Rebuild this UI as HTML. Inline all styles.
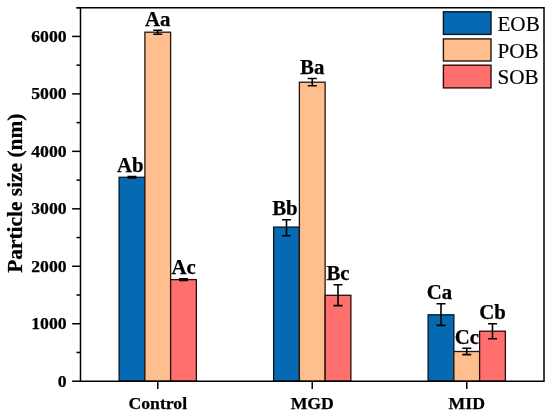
<!DOCTYPE html>
<html><head><meta charset="utf-8"><style>
html,body{margin:0;padding:0;background:#fff;width:550px;height:416px;overflow:hidden;font-family:"Liberation Serif",serif;}
svg{display:block;will-change:transform;}
</style></head><body>
<svg width="550" height="416" viewBox="0 0 550 416">
<rect width="550" height="416" fill="#fff"/>
<rect x="119.12" y="177.30" width="25.75" height="203.90" fill="#056AB1" stroke="#081424" stroke-width="1.3"/>
<rect x="144.88" y="32.20" width="25.75" height="349.00" fill="#FEBE8E" stroke="#26180e" stroke-width="1.3"/>
<rect x="170.62" y="279.60" width="25.75" height="101.60" fill="#FF6F6E" stroke="#2a0c0c" stroke-width="1.3"/>
<rect x="273.62" y="227.10" width="25.75" height="154.10" fill="#056AB1" stroke="#081424" stroke-width="1.3"/>
<rect x="299.38" y="82.20" width="25.75" height="299.00" fill="#FEBE8E" stroke="#26180e" stroke-width="1.3"/>
<rect x="325.12" y="295.30" width="25.75" height="85.90" fill="#FF6F6E" stroke="#2a0c0c" stroke-width="1.3"/>
<rect x="428.12" y="314.80" width="25.75" height="66.40" fill="#056AB1" stroke="#081424" stroke-width="1.3"/>
<rect x="453.88" y="351.50" width="25.75" height="29.70" fill="#FEBE8E" stroke="#26180e" stroke-width="1.3"/>
<rect x="479.62" y="331.20" width="25.75" height="50.00" fill="#FF6F6E" stroke="#2a0c0c" stroke-width="1.3"/>
<path d="M127.50 176.60H136.50M132.00 176.60V178.00M127.50 178.00H136.50" stroke="#000" stroke-width="1.6" fill="none"/>
<path d="M153.25 30.20H162.25M157.75 30.20V34.30M153.25 34.30H162.25" stroke="#000" stroke-width="1.6" fill="none"/>
<path d="M179.00 278.80H188.00M183.50 278.80V280.40M179.00 280.40H188.00" stroke="#000" stroke-width="1.6" fill="none"/>
<path d="M282.00 219.70H291.00M286.50 219.70V235.80M282.00 235.80H291.00" stroke="#000" stroke-width="1.6" fill="none"/>
<path d="M307.75 78.50H316.75M312.25 78.50V85.80M307.75 85.80H316.75" stroke="#000" stroke-width="1.6" fill="none"/>
<path d="M333.50 284.70H342.50M338.00 284.70V305.60M333.50 305.60H342.50" stroke="#000" stroke-width="1.6" fill="none"/>
<path d="M436.50 303.80H445.50M441.00 303.80V325.40M436.50 325.40H445.50" stroke="#000" stroke-width="1.6" fill="none"/>
<path d="M462.25 348.30H471.25M466.75 348.30V354.60M462.25 354.60H471.25" stroke="#000" stroke-width="1.6" fill="none"/>
<path d="M488.00 323.80H497.00M492.50 323.80V338.70M488.00 338.70H497.00" stroke="#000" stroke-width="1.6" fill="none"/>
<text x="130.40" y="171.60" text-anchor="middle" font-family="Liberation Serif" font-weight="bold" font-size="20.8" stroke="#000" stroke-width="0.25">Ab</text>
<text x="157.75" y="26.00" text-anchor="middle" font-family="Liberation Serif" font-weight="bold" font-size="20.8" stroke="#000" stroke-width="0.25">Aa</text>
<text x="183.50" y="274.40" text-anchor="middle" font-family="Liberation Serif" font-weight="bold" font-size="20.8" stroke="#000" stroke-width="0.25">Ac</text>
<text x="284.90" y="214.80" text-anchor="middle" font-family="Liberation Serif" font-weight="bold" font-size="20.8" stroke="#000" stroke-width="0.25">Bb</text>
<text x="312.25" y="73.70" text-anchor="middle" font-family="Liberation Serif" font-weight="bold" font-size="20.8" stroke="#000" stroke-width="0.25">Ba</text>
<text x="338.00" y="280.00" text-anchor="middle" font-family="Liberation Serif" font-weight="bold" font-size="20.8" stroke="#000" stroke-width="0.25">Bc</text>
<text x="439.40" y="299.40" text-anchor="middle" font-family="Liberation Serif" font-weight="bold" font-size="20.8" stroke="#000" stroke-width="0.25">Ca</text>
<text x="466.75" y="343.60" text-anchor="middle" font-family="Liberation Serif" font-weight="bold" font-size="20.8" stroke="#000" stroke-width="0.25">Cc</text>
<text x="492.50" y="318.50" text-anchor="middle" font-family="Liberation Serif" font-weight="bold" font-size="20.8" stroke="#000" stroke-width="0.25">Cb</text>
<path d="M80.5 7.7V381.2H544.0V7.7H77.2" stroke="#000" stroke-width="1.5" fill="none" stroke-linecap="square"/>
<line x1="72.10" y1="381.20" x2="80.50" y2="381.20" stroke="#000" stroke-width="1.5"/>
<text x="66.60" y="386.50" text-anchor="end" font-family="Liberation Serif" font-weight="bold" font-size="17.7" stroke="#000" stroke-width="0.25">0</text>
<line x1="76.50" y1="352.47" x2="80.50" y2="352.47" stroke="#000" stroke-width="1.5"/>
<line x1="72.10" y1="323.74" x2="80.50" y2="323.74" stroke="#000" stroke-width="1.5"/>
<text x="66.60" y="329.04" text-anchor="end" font-family="Liberation Serif" font-weight="bold" font-size="17.7" stroke="#000" stroke-width="0.25">1000</text>
<line x1="76.50" y1="295.01" x2="80.50" y2="295.01" stroke="#000" stroke-width="1.5"/>
<line x1="72.10" y1="266.28" x2="80.50" y2="266.28" stroke="#000" stroke-width="1.5"/>
<text x="66.60" y="271.58" text-anchor="end" font-family="Liberation Serif" font-weight="bold" font-size="17.7" stroke="#000" stroke-width="0.25">2000</text>
<line x1="76.50" y1="237.55" x2="80.50" y2="237.55" stroke="#000" stroke-width="1.5"/>
<line x1="72.10" y1="208.82" x2="80.50" y2="208.82" stroke="#000" stroke-width="1.5"/>
<text x="66.60" y="214.12" text-anchor="end" font-family="Liberation Serif" font-weight="bold" font-size="17.7" stroke="#000" stroke-width="0.25">3000</text>
<line x1="76.50" y1="180.08" x2="80.50" y2="180.08" stroke="#000" stroke-width="1.5"/>
<line x1="72.10" y1="151.35" x2="80.50" y2="151.35" stroke="#000" stroke-width="1.5"/>
<text x="66.60" y="156.65" text-anchor="end" font-family="Liberation Serif" font-weight="bold" font-size="17.7" stroke="#000" stroke-width="0.25">4000</text>
<line x1="76.50" y1="122.62" x2="80.50" y2="122.62" stroke="#000" stroke-width="1.5"/>
<line x1="72.10" y1="93.89" x2="80.50" y2="93.89" stroke="#000" stroke-width="1.5"/>
<text x="66.60" y="99.19" text-anchor="end" font-family="Liberation Serif" font-weight="bold" font-size="17.7" stroke="#000" stroke-width="0.25">5000</text>
<line x1="76.50" y1="65.16" x2="80.50" y2="65.16" stroke="#000" stroke-width="1.5"/>
<line x1="72.10" y1="36.43" x2="80.50" y2="36.43" stroke="#000" stroke-width="1.5"/>
<text x="66.60" y="41.73" text-anchor="end" font-family="Liberation Serif" font-weight="bold" font-size="17.7" stroke="#000" stroke-width="0.25">6000</text>
<line x1="76.50" y1="7.70" x2="80.50" y2="7.70" stroke="#000" stroke-width="1.5"/>
<line x1="157.75" y1="381.20" x2="157.75" y2="388.90" stroke="#000" stroke-width="1.5"/>
<text x="157.75" y="408.6" text-anchor="middle" font-family="Liberation Serif" font-weight="bold" font-size="17.7" stroke="#000" stroke-width="0.25">Control</text>
<line x1="312.25" y1="381.20" x2="312.25" y2="388.90" stroke="#000" stroke-width="1.5"/>
<text x="312.25" y="408.6" text-anchor="middle" font-family="Liberation Serif" font-weight="bold" font-size="17.7" stroke="#000" stroke-width="0.25">MGD</text>
<line x1="466.75" y1="381.20" x2="466.75" y2="388.90" stroke="#000" stroke-width="1.5"/>
<text x="466.75" y="408.6" text-anchor="middle" font-family="Liberation Serif" font-weight="bold" font-size="17.7" stroke="#000" stroke-width="0.25">MID</text>
<text transform="translate(21.7,272.8) rotate(-90)" font-family="Liberation Serif" font-weight="bold" font-size="21.4" stroke="#000" stroke-width="0.25">Particle size (nm)</text>
<rect x="443.4" y="11.80" width="47.6" height="22.60" fill="#056AB1" stroke="#081424" stroke-width="1.4"/>
<text x="497.4" y="30.70" font-family="Liberation Serif" font-size="21.2" stroke="#000" stroke-width="0.15">EOB</text>
<rect x="443.4" y="38.90" width="47.6" height="22.10" fill="#FEBE8E" stroke="#26180e" stroke-width="1.4"/>
<text x="497.4" y="57.55" font-family="Liberation Serif" font-size="21.2" stroke="#000" stroke-width="0.15">POB</text>
<rect x="443.4" y="65.20" width="47.6" height="22.70" fill="#FF6F6E" stroke="#2a0c0c" stroke-width="1.4"/>
<text x="497.4" y="84.15" font-family="Liberation Serif" font-size="21.2" stroke="#000" stroke-width="0.15">SOB</text>
</svg>
</body></html>
